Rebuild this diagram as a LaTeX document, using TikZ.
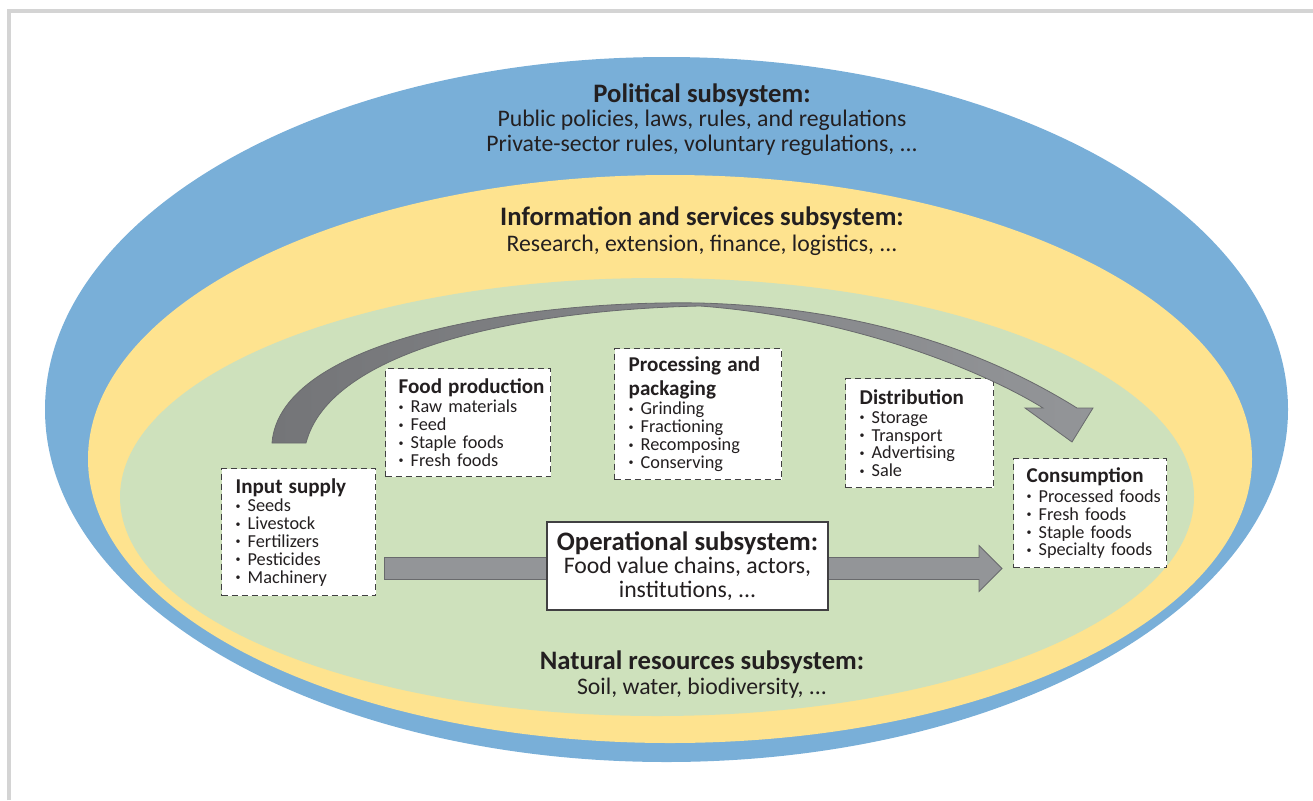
\documentclass[tikz,border=0pt]{standalone}
\usepackage{fontspec}
\setmainfont{Carlito}
\usetikzlibrary{calc}

\definecolor{framegrey}{RGB}{212,212,212}
\definecolor{polblue}{RGB}{121,175,216}
\definecolor{infoyellow}{RGB}{254,227,143}
\definecolor{natgreen}{RGB}{206,225,188}
\definecolor{arrowgrey}{RGB}{147,149,152}
\definecolor{arrowdark}{RGB}{116,117,120}
\definecolor{arrowedge}{RGB}{105,106,109}
\definecolor{inkgrey}{RGB}{35,31,32}
\definecolor{boxedge}{RGB}{65,64,66}

\newcommand{\stagetitle}[1]{\mbox{\fontsize{15.8}{13.4}\selectfont\bfseries #1}}
\newcommand{\stageitem}[1]{\mbox{\raisebox{0.14em}{\fontsize{7.5}{7.5}\selectfont\textbullet}\hspace{0.38em}#1}}
\newcommand{\ringtitle}{\fontsize{20}{18.2}\selectfont\bfseries}

\tikzset{every picture/.style={line width=0.75pt}}
\tikzset{
  stagebox/.style={draw=boxedge, dash pattern={on 4.5pt off 3pt}, line width=1.1pt, fill=white, anchor=north west, inner ysep=0pt, align=left, text=inkgrey, font=\fontsize{13.7}{13.4}\selectfont},
  opbox/.style={draw=boxedge, line width=1.1pt, fill=white, align=center, inner sep=0pt, text=inkgrey, font=\fontsize{17.8}{17.5}\selectfont},
  ringlabel/.style={align=center, inner sep=0pt, text=inkgrey, font=\fontsize{17.8}{18.2}\selectfont},
  flowarrow/.style={draw=arrowedge, line width=0.6pt, fill=arrowgrey},
}

\begin{document}
\begin{tikzpicture}[x=0.75pt,y=0.75pt,yscale=-1,xscale=1]
\path [use as bounding box] (0,0) rectangle (1313,800);

%Straight Lines [frame]
\draw [color=framegrey, line width=3pt] (8.5,800) -- (8.5,10.5) -- (1313,10.5) ;

%Shape: Ellipse [political subsystem]
\fill [polblue] (666.5,409.5) ellipse [x radius=621.5, y radius=352.5] ;
%Shape: Ellipse [information and services subsystem]
\fill [infoyellow] (670,459) ellipse [x radius=582, y radius=284] ;
%Shape: Ellipse [natural resources subsystem]
\fill [natgreen] (657,497) ellipse [x radius=537, y radius=219] ;

% Text Node
\node [ringlabel] (political) at (702,119.5) {{\ringtitle Political subsystem:}\\Public policies, laws, rules, and regulations\\Private-sector rules, voluntary regulations, ...};
% Text Node
\node [ringlabel] (information) at (702,231) {{\ringtitle Information and services subsystem:}\\[1.3pt]Research, extension, finance, logistics, ...};
% Text Node
\node [ringlabel] (natural) at (702,674.5) {{\ringtitle Natural resources subsystem:}\\Soil, water, biodiversity, ...};

% Stage boxes
\node [stagebox, text width=94.5pt, inner xsep=10.5pt, minimum height=95.25pt] (inputbox) at (221,468) {\stagetitle{Input supply}\\[0.6pt]\stageitem{Seeds}\\\stageitem{Livestock}\\\stageitem{Fertilizers}\\\stageitem{Pesticides}\\\stageitem{Machinery}};
\node [stagebox, text width=104.25pt, inner xsep=9.75pt, minimum height=81pt] (prodbox) at (385,368) {\stagetitle{Food production}\\[1pt]\stageitem{Raw materials}\\\stageitem{Feed}\\\stageitem{Staple foods}\\\stageitem{Fresh foods}};
\node [stagebox, text width=104.25pt, inner xsep=10.5pt, minimum height=98.25pt] (procbox) at (614,348) {\stagetitle{Processing and}\\[2.8pt]\stagetitle{packaging}\\[1.5pt]\stageitem{Grinding}\\\stageitem{Fractioning}\\\stageitem{Recomposing}\\\stageitem{Conserving}};
\node [stagebox, text width=90pt, inner xsep=10.5pt, minimum height=81.75pt] (distbox) at (845,378) {\stagetitle{Distribution}\\[0.8pt]\stageitem{Storage}\\\stageitem{Transport}\\\stageitem{Advertising}\\\stageitem{Sale}};
\node [stagebox, text width=95.25pt, inner xsep=9.75pt, minimum height=81.75pt] (consbox) at (1013,458) {\stagetitle{Consumption}\\[1.5pt]\stageitem{Processed foods}\\\stageitem{Fresh foods}\\\stageitem{Staple foods}\\\stageitem{Specialty foods}};

%Curve Lines [value chain loop]
\coordinate (looptail) at ($(inputbox.north west)+(51,-25)$) ;
\coordinate (looptip) at ($(consbox.north west)+(59,-16)$) ;
\draw [draw=arrowedge, line width=0.6pt, left color=arrowdark, right color=arrowgrey] (looptail) .. controls (280,340) and (520,300) .. (700,303) .. controls (880,308) and (1000,360) .. ($(looptip)+(5,-34)$) -- ($(looptip)+(21,-34)$) -- (looptip) -- ($(looptip)+(-47,-34)$) -- ($(looptip)+(-29,-34)$) .. controls (990,375) and (860,318) .. (700,306) .. controls (520,310) and (330,350) .. ($(looptail)+(34,0)$) -- cycle ;

%Right Arrow [operational flow]
\coordinate (flowtail) at ($(inputbox.south east)+(8,-28)$) ;
\coordinate (flowtip) at ($(flowtail -| consbox.west)+(-11,0)$) ;
\draw [flowarrow] ($(flowtail)+(0,-11)$) -- ($(flowtip)+(-23,-11)$) -- ($(flowtip)+(-23,-23)$) -- (flowtip) -- ($(flowtip)+(-23,23)$) -- ($(flowtip)+(-23,11)$) -- ($(flowtail)+(0,11)$) -- cycle ;

% Text Node
\node [opbox, minimum width=210.75pt, minimum height=66pt] (operational) at (687.5,566) {{\ringtitle Operational subsystem:}\\Food value chains, actors,\\institutions, ...};

\end{tikzpicture}
\end{document}
